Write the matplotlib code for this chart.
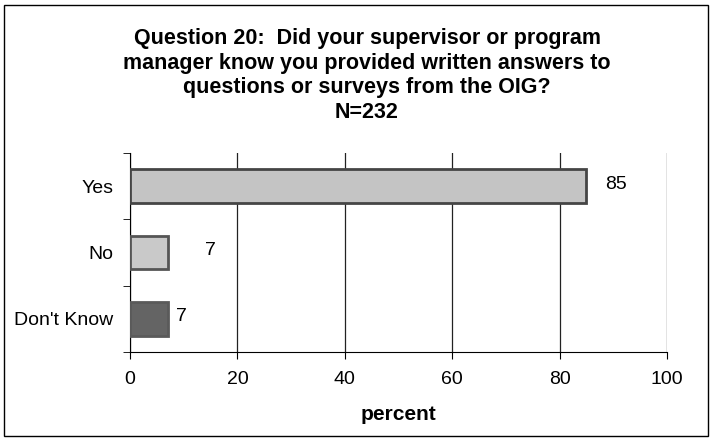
import matplotlib
matplotlib.use("Agg")
import matplotlib.pyplot as plt
from matplotlib.patches import Rectangle

categories = ["Yes", "No", "Don't Know"]
values = [85, 7, 7]
labels = ["85", "7", "7"]
label_offsets = [3.5, 7.0, 1.6]
colors = ["#c4c4c4", "#c9c9c9", "#646464"]
edges = ["#454545", "#555555", "#5a5a5a"]
xticks = [0, 20, 40, 60, 80, 100]
title_lines = ["Question 20:  Did your supervisor or program",
               "manager know you provided written answers to",
               "questions or surveys from the OIG?",
               "N=232"]
title_y = [38, 63, 88, 112]

plt.rcParams['font.family'] = ['Liberation Sans', 'DejaVu Sans']

fig = plt.figure(figsize=(7.11, 4.40), dpi=100)
ax = fig.add_axes([130/711, 1-352/440, (667-130)/711, (352-153)/440])

ypos = list(range(len(categories)))
ax.barh(ypos, values, height=0.51, color=colors, edgecolor=edges, linewidth=2, zorder=3)
for y, v, lab, off in zip(ypos, values, labels, label_offsets):
    ax.text(v + off, y - 0.03, lab, va='center', ha='left', fontsize=14)

ax.set_xlim(0, 100)
ax.set_ylim(2.5, -0.5)
ax.set_xticks(xticks)
ax.set_xticklabels([str(t) for t in xticks], fontsize=14)
ax.set_yticks(ypos)
ax.set_yticklabels(categories, fontsize=14)
ax.set_yticks([-0.5, 0.5, 1.5, 2.5], minor=True)
ax.tick_params(axis='y', which='major', length=0, pad=12)
ax.tick_params(axis='y', which='minor', length=5, direction='out')
ax.tick_params(axis='x', length=5, direction='out', pad=9)
ax.xaxis.grid(True, color='#222222', linewidth=0.9, zorder=0)
ax.spines['top'].set_visible(False)
ax.spines['right'].set_visible(False)
ax.set_xlabel("percent", fontsize=15, fontweight='bold', labelpad=12)

for line, yy in zip(title_lines, title_y):
    fig.text(367/711, 1-yy/440, line, ha='center', va='center',
             fontsize=15.5, fontweight='bold')

fig.patches.append(Rectangle((4/711, 4/440), 704/711, 431/440, transform=fig.transFigure,
                             fill=False, edgecolor='black', linewidth=1))

fig.savefig("out.png", dpi=100)
